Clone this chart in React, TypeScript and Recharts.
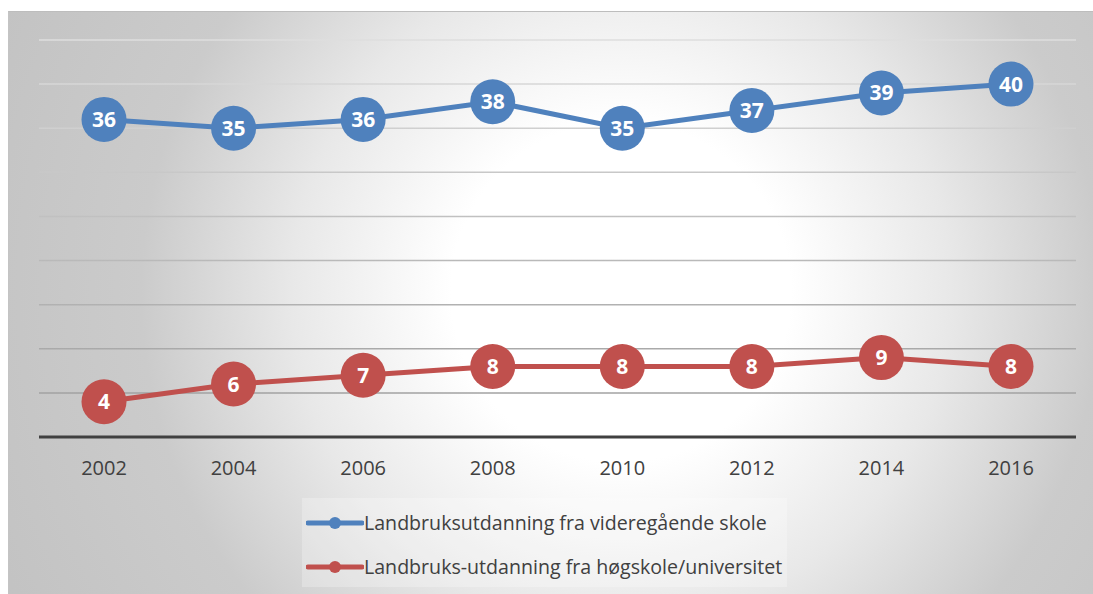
import React from 'react';
import { LineChart, Line, XAxis, YAxis, CartesianGrid, Legend, LabelList } from 'recharts';

const years = ['2002', '2004', '2006', '2008', '2010', '2012', '2014', '2016'];
const videregaende = [36, 35, 36, 38, 35, 37, 39, 40];
const hogskole = [4, 6, 7, 8, 8, 8, 9, 8];
const yTicks = [0, 5, 10, 15, 20, 25, 30, 35, 40, 45];
const seriesNames = [
  'Landbruksutdanning fra videregående skole',
  'Landbruks-utdanning fra høgskole/universitet',
];
const colors = ['#4f81bd', '#c0504d'];

const data = years.map((year, i) => ({ year, vgs: videregaende[i], hs: hogskole[i] }));

const FONT = '"Open Sans", "Liberation Sans", sans-serif';

const Tick = (props: any) => {
  const { x, y, payload } = props;
  return (
    <text x={x} y={y + 38} textAnchor="middle" fill="#404040" fontSize={20} fontFamily={FONT}>
      {payload.value}
    </text>
  );
};

const makeDot = (color: string) => (props: any) => {
  const { cx, cy, index } = props;
  if (cx == null || cy == null) return <g key={index} />;
  return <circle key={index} cx={cx} cy={cy} r={22.5} fill={color} />;
};

const DataLabel = (props: any) => {
  const { x, y, value } = props;
  return (
    <text x={x} y={y + 7.5} textAnchor="middle" fill="#ffffff" fontSize={21} fontWeight={700} fontFamily={FONT}>
      {value}
    </text>
  );
};

const LegendContent = (props: any) => {
  const payload = [...(props.payload || [])].sort(
    (a: any, b: any) => seriesNames.indexOf(a.value) - seriesNames.indexOf(b.value)
  );
  return (
    <div style={{ width: 485, height: 89, background: 'rgba(255,255,255,0.25)', position: 'relative', fontFamily: FONT }}>
      {payload.map((p: any, i: number) => (
        <div key={i} style={{ position: 'absolute', left: 4, top: i === 0 ? 12 : 56, height: 26, display: 'flex', alignItems: 'center', whiteSpace: 'nowrap' }}>
          <svg width={58} height={16} style={{ display: 'block' }}>
            <line x1={2} y1={8} x2={56} y2={8} stroke={p.color} strokeWidth={5} strokeLinecap="round" />
            <circle cx={29} cy={8} r={6} fill={p.color} />
          </svg>
          <span style={{ color: '#404040', fontSize: 19.6, marginLeft: 0, lineHeight: '26px' }}>{p.value}</span>
        </div>
      ))}
    </div>
  );
};

export default function App() {
  return (
    <div style={{ position: 'fixed', left: 0, top: 0, width: '100vw', height: '100vh', overflow: 'hidden', background: '#ffffff' }}>
      <div
        style={{
          position: 'absolute',
          left: 8,
          top: 11,
          right: 0,
          bottom: 0,
          boxSizing: 'border-box',
          borderTop: '1px solid #bdbdbd',
          borderLeft: '1px solid #c4c4c4',
          background:
            'radial-gradient(circle at 612px 280px, #ffffff 0px, #ffffff 170px, #e8e8e8 330px, #cbcbcb 480px, #c2c2c2 700px)',
        }}
      />
      <div style={{ position: 'absolute', left: 8, top: 8 }}>
        <LineChart width={1085} height={586} data={data} margin={{ top: 32, right: 17, left: 31, bottom: 7 }}>
          <defs>
            <linearGradient id="gridGrad" gradientUnits="userSpaceOnUse" x1="0" y1="32" x2="0" y2="429">
              <stop offset="0%" stopColor="#dedede" />
              <stop offset="50%" stopColor="#bdbdbd" />
              <stop offset="100%" stopColor="#9a9a9a" />
            </linearGradient>
          </defs>
          <CartesianGrid vertical={false} stroke="url(#gridGrad)" strokeWidth={1.5} />
          <YAxis hide domain={[0, 45]} ticks={yTicks} type="number" />
          <XAxis
            dataKey="year"
            height={61}
            padding={{ left: 65, right: 65 }}
            axisLine={{ stroke: '#404040', strokeWidth: 3 }}
            tickLine={false}
            tickSize={0}
            tickMargin={0}
            tick={<Tick />}
            interval={0}
          />
          <Legend
            verticalAlign="bottom"
            height={89}
            wrapperStyle={{ left: 294, width: 485, height: 89 }}
            content={<LegendContent />}
          />
          <Line
            name={seriesNames[0]}
            dataKey="vgs"
            stroke={colors[0]}
            strokeWidth={5}
            dot={makeDot(colors[0])}
            activeDot={false}
            isAnimationActive={false}
          >
            <LabelList dataKey="vgs" content={<DataLabel />} />
          </Line>
          <Line
            name={seriesNames[1]}
            dataKey="hs"
            stroke={colors[1]}
            strokeWidth={5}
            dot={makeDot(colors[1])}
            activeDot={false}
            isAnimationActive={false}
          >
            <LabelList dataKey="hs" content={<DataLabel />} />
          </Line>
        </LineChart>
      </div>
    </div>
  );
}
